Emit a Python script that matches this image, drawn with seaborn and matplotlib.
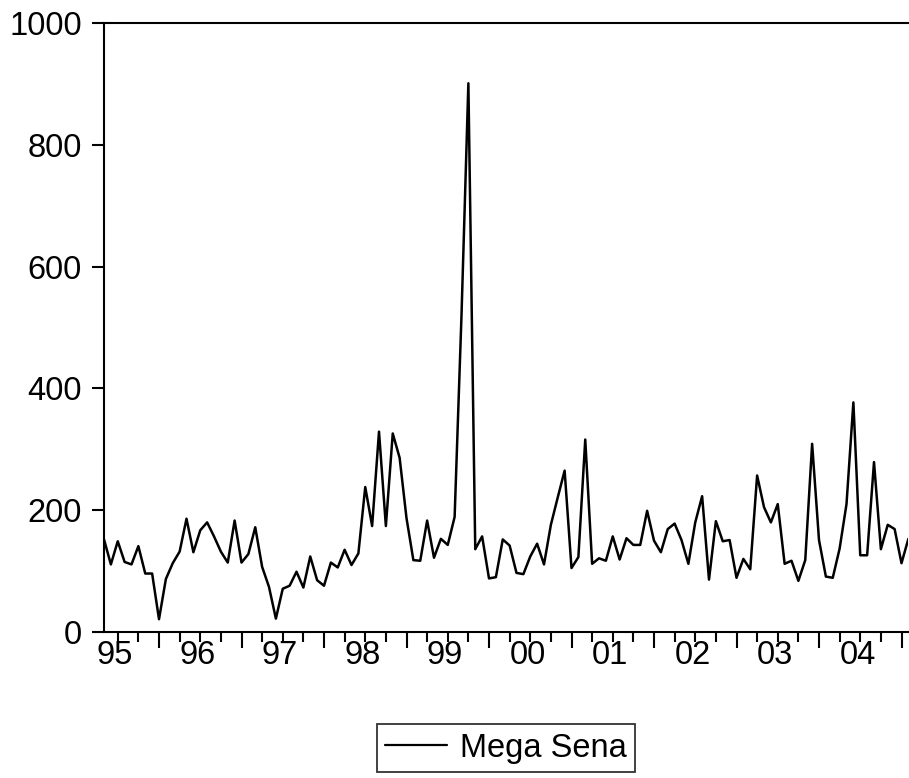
import numpy as np
import pandas as pd
import matplotlib
matplotlib.use("Agg")
import matplotlib.pyplot as plt
import matplotlib.transforms as mtrans
import seaborn as sns

# Monthly series, first observation May 1995
start_year = 1995
start_month = 5
v1995 = [152, 111, 149, 115, 111, 141, 96, 96]
v1996 = [21, 87, 113, 132, 186, 131, 167, 180, 157, 132, 114, 183]
v1997 = [114, 128, 172, 107, 74, 22, 71, 76, 99, 73, 124, 85]
v1998 = [76, 114, 106, 135, 110, 129, 238, 174, 329, 174, 326, 286]
v1999 = [187, 118, 117, 183, 122, 153, 143, 189, 520, 901, 136, 157]
v2000 = [88, 90, 152, 142, 97, 95, 124, 145, 111, 176, 221, 265]
v2001 = [105, 123, 316, 112, 121, 117, 157, 119, 154, 143, 143, 199]
v2002 = [150, 131, 169, 178, 151, 112, 180, 223, 86, 182, 149, 151]
v2003 = [89, 120, 103, 257, 205, 180, 210, 112, 117, 84, 118, 309]
v2004 = [151, 91, 89, 137, 210, 377, 126, 126, 279, 136, 176, 169]
v2005 = [113, 153]

year_labels = ["95", "96", "97", "98", "99", "00", "01", "02", "03", "04"]
y_ticks = [0, 200, 400, 600, 800, 1000]
series_name = "Mega Sena"

values = v1995 + v1996 + v1997 + v1998 + v1999 + v2000 + v2001 + v2002 + v2003 + v2004 + v2005
n = len(values)
df = pd.DataFrame({"t": np.arange(n), "value": values})

sns.set_style("ticks")
plt.rcParams["font.family"] = ["Liberation Sans", "DejaVu Sans"]
plt.rcParams["text.color"] = "black"
plt.rcParams["xtick.color"] = "black"
plt.rcParams["ytick.color"] = "black"
plt.rcParams["axes.labelcolor"] = "black"

FS = 23.5
W, H = 909, 778
fig = plt.figure(figsize=(W / 100, H / 100), dpi=100)
step = 6.875
left_px, top_px, bottom_px = 104, 23, 632
ax = fig.add_axes([left_px / W, 1 - bottom_px / H, (step * (n - 1)) / W, (bottom_px - top_px) / H])

sns.lineplot(data=df, x="t", y="value", color="black", linewidth=1.8, ax=ax, label=series_name, legend=False)

ax.set_xlim(0, n - 1)
ax.set_ylim(0, 1000)
ax.set_xlabel("")
ax.set_ylabel("")

for side in ["left", "bottom", "top"]:
    ax.spines[side].set_linewidth(1.5)
    ax.spines[side].set_color("black")
ax.spines["right"].set_visible(False)

ax.set_yticks(y_ticks)
ax.set_yticklabels([str(v) for v in y_ticks], fontsize=FS)
ax.tick_params(axis="y", length=9, width=1.5, pad=7, colors="black")

# x ticks: Jan = major, quarter starts = minor
jan_idx = [i for i in range(n) if (start_month - 1 + i) % 12 == 0]
q_idx = [i for i in range(n) if (start_month - 1 + i) % 3 == 0 and i not in jan_idx]
ax.set_xticks(jan_idx)
ax.set_xticklabels([])
ax.set_xticks(q_idx, minor=True)
ax.tick_params(axis="x", which="major", length=11.5, width=1.5, colors="black")
ax.tick_params(axis="x", which="minor", length=7, width=1.5, colors="black")

first_jan = -((start_month - 1) % 12)
trans = mtrans.blended_transform_factory(ax.transData, ax.transAxes)
for k, lab in enumerate(year_labels):
    xpos = first_jan + 12 * k + 5.6
    ax.text(xpos, -0.038, lab, transform=trans, ha="center", va="center", fontsize=FS, color="black")

handles, labels = ax.get_legend_handles_labels()
ax_center_x = (left_px + left_px + step * (n - 1)) / 2 / W
leg = fig.legend(handles, labels, loc="center", bbox_to_anchor=(ax_center_x, 1 - 748 / H),
                 fontsize=FS, frameon=True, fancybox=False, borderpad=0.25,
                 handlelength=1.9, handletextpad=0.4, borderaxespad=0)
leg.get_frame().set_edgecolor("black")
leg.get_frame().set_linewidth(1.3)
for t in leg.get_texts():
    t.set_color("black")
for line in leg.get_lines():
    line.set_linewidth(1.6)

fig.savefig("out.png", dpi=100, facecolor="white")
